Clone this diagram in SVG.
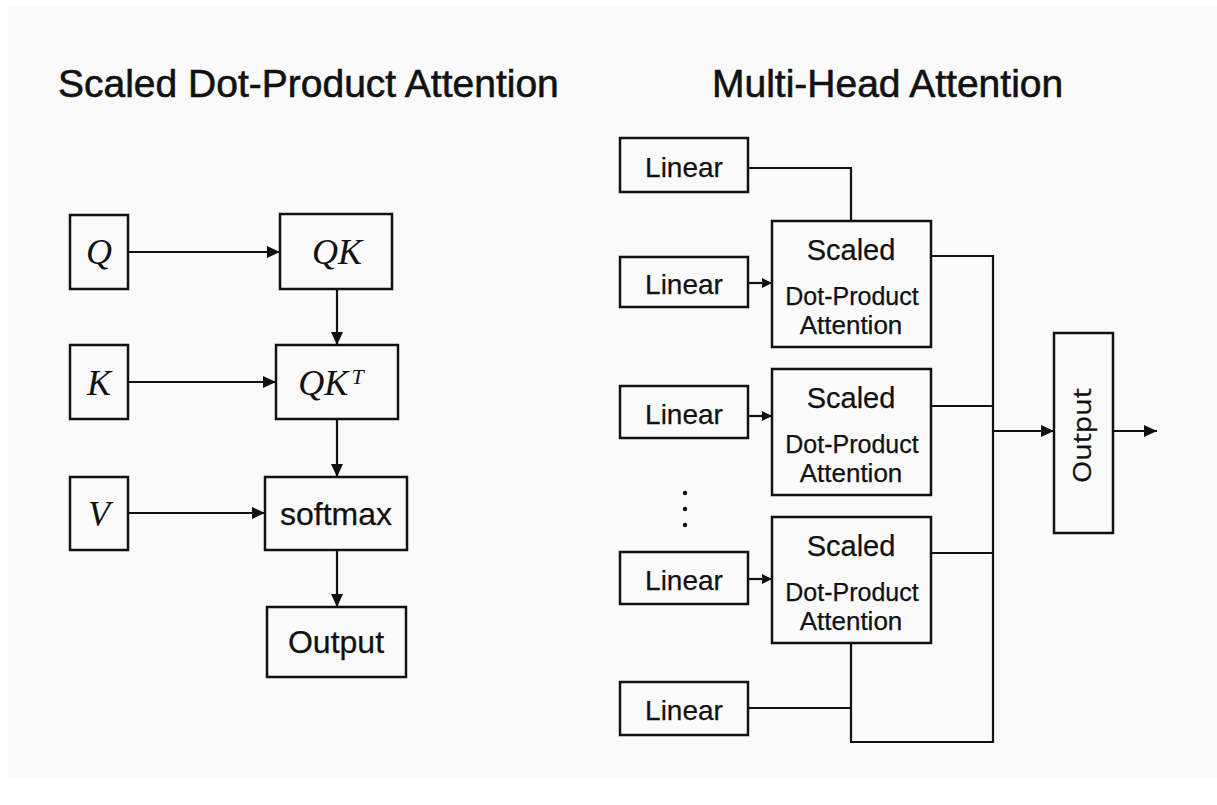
<svg xmlns="http://www.w3.org/2000/svg" width="1217" height="805" viewBox="0 0 1217 805">
  <defs>
    <marker id="arr" markerUnits="userSpaceOnUse" markerWidth="14" markerHeight="12" refX="13" refY="6" orient="auto">
      <path d="M0,0 L13,6 L0,12 Z" fill="#111"/>
    </marker>
    <marker id="arrs" markerUnits="userSpaceOnUse" markerWidth="11" markerHeight="10" refX="10" refY="5" orient="auto">
      <path d="M0,0 L10,5 L0,10 Z" fill="#111"/>
    </marker>
    <style>
      .box { fill: none; stroke: #111; stroke-width: 2.5; }
      .wire { fill: none; stroke: #111; stroke-width: 2.2; }
      .title { font-family: "Liberation Sans", Arial, sans-serif; font-size: 39px; fill: #111; stroke: #111; stroke-width: 0.6; }
      .lbl { font-family: "Liberation Sans", Arial, sans-serif; fill: #111; text-anchor: middle; stroke: #111; stroke-width: 0.25; }
      .math { font-family: "Liberation Serif", "Times New Roman", serif; font-style: italic; fill: #111; text-anchor: middle; font-size: 36px; }
    </style>
  </defs>

  <rect x="0" y="0" width="1217" height="805" fill="#ffffff"/>
  <rect x="8" y="6" width="1209" height="772" fill="#fafafa"/>

  <!-- headings -->
  <text class="title" x="58" y="97">Scaled Dot-Product Attention</text>
  <text class="title" x="712" y="97">Multi-Head Attention</text>

  <!-- left: scaled dot-product attention -->
  <g id="q">
    <rect class="box" x="70" y="215" width="58" height="74"/>
    <text class="math" x="99" y="264">Q</text>
  </g>
  <g id="k">
    <rect class="box" x="70" y="345" width="58" height="74"/>
    <text class="math" x="99" y="395">K</text>
  </g>
  <g id="v">
    <rect class="box" x="70" y="477" width="58" height="73"/>
    <text class="math" x="99" y="526">V</text>
  </g>
  <g id="qk">
    <rect class="box" x="280" y="214" width="112" height="75"/>
    <text class="math" x="337" y="264">QK</text>
  </g>
  <g id="qkt">
    <rect class="box" x="276" y="345" width="122" height="74"/>
    <text class="math" x="331" y="395" font-size="35">QK<tspan font-size="22" dx="3" dy="-11">T</tspan></text>
  </g>
  <g id="softmax">
    <rect class="box" x="265" y="477" width="142" height="73"/>
    <text class="lbl" x="336" y="525" font-size="32">softmax</text>
  </g>
  <g id="sdpa-output">
    <rect class="box" x="267" y="607" width="139" height="70"/>
    <text class="lbl" x="336" y="653" font-size="32">Output</text>
  </g>

  <!-- right: multi-head attention -->
  <g id="linear-1">
    <rect class="box" x="620" y="138" width="128" height="54"/>
    <text class="lbl" x="684" y="177" font-size="28">Linear</text>
  </g>
  <g id="linear-2">
    <rect class="box" x="620" y="257" width="128" height="50"/>
    <text class="lbl" x="684" y="294" font-size="28">Linear</text>
  </g>
  <g id="linear-3">
    <rect class="box" x="620" y="386" width="128" height="52"/>
    <text class="lbl" x="684" y="424" font-size="28">Linear</text>
  </g>
  <g id="linear-4">
    <rect class="box" x="620" y="552" width="128" height="52"/>
    <text class="lbl" x="684" y="590" font-size="28">Linear</text>
  </g>
  <g id="linear-5">
    <rect class="box" x="620" y="682" width="128" height="53"/>
    <text class="lbl" x="684" y="720" font-size="28">Linear</text>
  </g>

  <g id="head-1">
    <rect class="box" x="772" y="221" width="159" height="126"/>
    <text class="lbl" x="851" y="260" font-size="29">Scaled</text>
    <text class="lbl" x="852" y="305" font-size="25">Dot-Product</text>
    <text class="lbl" x="851" y="334" font-size="26">Attention</text>
  </g>
  <g id="head-2">
    <rect class="box" x="772" y="369" width="159" height="126"/>
    <text class="lbl" x="851" y="408" font-size="29">Scaled</text>
    <text class="lbl" x="852" y="453" font-size="25">Dot-Product</text>
    <text class="lbl" x="851" y="482" font-size="26">Attention</text>
  </g>
  <g id="head-3">
    <rect class="box" x="772" y="517" width="159" height="126"/>
    <text class="lbl" x="851" y="556" font-size="29">Scaled</text>
    <text class="lbl" x="852" y="601" font-size="25">Dot-Product</text>
    <text class="lbl" x="851" y="630" font-size="26">Attention</text>
  </g>

  <g id="ellipsis" fill="#111">
    <circle cx="685" cy="493" r="2.2"/>
    <circle cx="685" cy="509" r="2.2"/>
    <circle cx="685" cy="525" r="2.2"/>
  </g>

  <g id="mha-output">
    <rect class="box" x="1054" y="333" width="59" height="200"/>
    <text class="lbl" transform="translate(1091,435.5) rotate(-90)" font-size="26" textLength="95" lengthAdjust="spacingAndGlyphs" style="font-family:'Open Sans',sans-serif">Output</text>
  </g>

  <!-- connectors -->
  <g id="connectors">
    <line class="wire" x1="128" y1="252" x2="280" y2="252" marker-end="url(#arr)"/>
    <line class="wire" x1="337" y1="289" x2="337" y2="345" marker-end="url(#arr)"/>
    <line class="wire" x1="128" y1="382" x2="276" y2="382" marker-end="url(#arr)"/>
    <line class="wire" x1="337" y1="419" x2="337" y2="477" marker-end="url(#arr)"/>
    <line class="wire" x1="128" y1="513" x2="265" y2="513" marker-end="url(#arr)"/>
    <line class="wire" x1="337" y1="550" x2="337" y2="607" marker-end="url(#arr)"/>

    <polyline class="wire" points="748,168 851,168 851,221"/>
    <line class="wire" x1="748" y1="283" x2="772" y2="283" marker-end="url(#arrs)"/>
    <line class="wire" x1="748" y1="416" x2="772" y2="416" marker-end="url(#arrs)"/>
    <line class="wire" x1="748" y1="579" x2="772" y2="579" marker-end="url(#arrs)"/>
    <polyline class="wire" points="748,708 851,708"/>
    <polyline class="wire" points="851,643 851,742 993,742 993,256 931,256"/>
    <line class="wire" x1="931" y1="406" x2="993" y2="406"/>
    <line class="wire" x1="931" y1="553" x2="993" y2="553"/>
    <line class="wire" x1="993" y1="431" x2="1054" y2="431" marker-end="url(#arr)"/>
    <line class="wire" x1="1113" y1="431" x2="1157" y2="431" marker-end="url(#arr)"/>
  </g>
</svg>
